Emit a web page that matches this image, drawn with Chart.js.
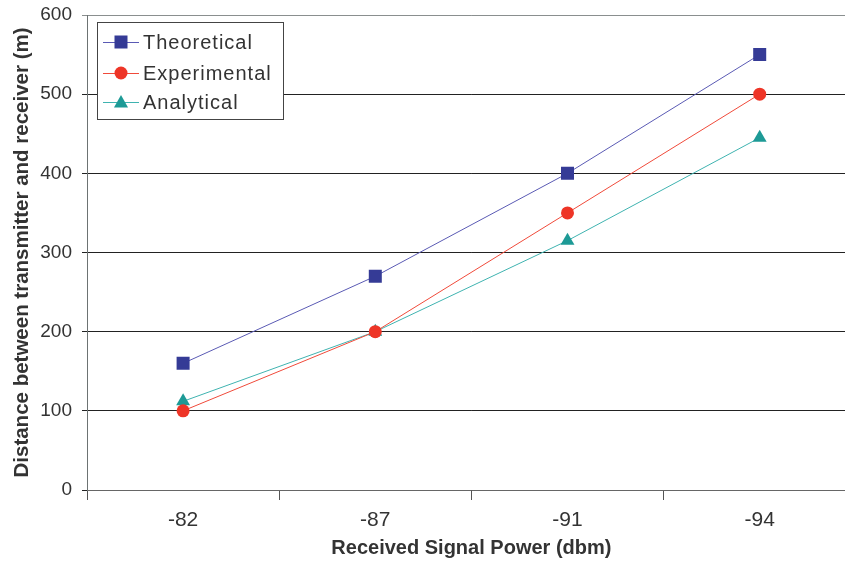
<!DOCTYPE html>
<html>
<head>
<meta charset="utf-8">
<script src="https://cdn.jsdelivr.net/npm/chart.js"></script>
<style>
  html, body { margin: 0; padding: 0; background: #fff; overflow: hidden; }
  #wrap { position: absolute; left: 0; top: 0; width: 865px; height: 566px; }
</style>
</head>
<body>
<div id="wrap"><canvas id="chart" width="865" height="566"></canvas></div>
<script>
// data
const powerLabels = ['-82', '-87', '-91', '-94'];
const theoretical = [160, 270, 400, 550];
const experimental = [100, 200, 350, 500];
const analytical = [112, 200, 315, 445];
const yTicks = [0, 100, 200, 300, 400, 500, 600];

const FONT = '"Liberation Sans", Arial, sans-serif';

// legend box drawn inside the plot, Excel style
const boxLegend = {
  id: 'boxLegend',
  afterDraw(chart) {
    const ctx = chart.ctx;
    const x0 = 97, y0 = 22, w = 186, h = 97;
    ctx.save();
    ctx.fillStyle = '#fff';
    ctx.fillRect(x0, y0, w, h);
    ctx.strokeStyle = '#444';
    ctx.lineWidth = 1;
    ctx.strokeRect(x0 + 0.5, y0 + 0.5, w, h);
    const rows = [42, 73, 102];
    chart.data.datasets.forEach((ds, i) => {
      const y = rows[i];
      ctx.strokeStyle = ds.borderColor;
      ctx.lineWidth = 1;
      ctx.beginPath();
      ctx.moveTo(103, y + 0.5);
      ctx.lineTo(139, y + 0.5);
      ctx.stroke();
      ctx.fillStyle = ds.pointBackgroundColor;
      ctx.beginPath();
      const mx = 121;
      if (ds.pointStyle === 'rect') {
        ctx.rect(mx - 6.5, y - 6.5, 13, 13);
      } else if (ds.pointStyle === 'circle') {
        ctx.arc(mx, y, 6.5, 0, Math.PI * 2);
      } else {
        ctx.moveTo(mx, y - 7);
        ctx.lineTo(mx + 7, y + 5.5);
        ctx.lineTo(mx - 7, y + 5.5);
        ctx.closePath();
      }
      ctx.fill();
      ctx.fillStyle = '#333';
      ctx.font = '20px ' + FONT;
      ctx.letterSpacing = '1px';
      ctx.textBaseline = 'middle';
      ctx.fillText(ds.label, 143, y + 1);
    });
    ctx.restore();
  }
};

new Chart(document.getElementById('chart'), {
  type: 'line',
  data: {
    labels: powerLabels,
    datasets: [
      {
        label: 'Theoretical',
        data: theoretical,
        borderColor: '#5a5ab4',
        borderWidth: 1,
        pointStyle: 'rect',
        pointRadius: 9.2,
        pointBackgroundColor: '#353b96',
        pointBorderWidth: 0,
        tension: 0
      },
      {
        label: 'Experimental',
        data: experimental,
        borderColor: '#f04a3a',
        borderWidth: 1,
        pointStyle: 'circle',
        pointRadius: 6.5,
        pointBackgroundColor: '#ee3527',
        pointBorderWidth: 0,
        tension: 0
      },
      {
        label: 'Analytical',
        data: analytical,
        borderColor: '#3fb3b0',
        borderWidth: 1,
        pointStyle: 'triangle',
        pointRadius: 8,
        pointBackgroundColor: '#1d9a96',
        pointBorderWidth: 0,
        tension: 0
      }
    ]
  },
  options: {
    responsive: false,
    animation: false,
    devicePixelRatio: 1,
    layout: { padding: { top: 15, right: 4, left: 0, bottom: 0 } },
    plugins: {
      legend: { display: false },
      tooltip: { enabled: false }
    },
    scales: {
      x: {
        type: 'category',
        offset: true,
        grid: {
          offset: true,
          drawOnChartArea: false,
          drawTicks: true,
          tickLength: 10,
          color: '#555'
        },
        border: { color: '#666', width: 1 },
        ticks: {
          color: '#333',
          font: { family: FONT, size: 21 },
          padding: 8,
          maxRotation: 0
        },
        title: {
          display: true,
          text: 'Received Signal Power (dbm)',
          color: '#333',
          font: { family: FONT, size: 20, weight: 'bold' },
          padding: { top: 0, bottom: 6 }
        },
        afterFit(scale) {
          scale.height = 76;
          scale.paddingLeft = 0;
          scale.paddingRight = 0;
        }
      },
      y: {
        min: 0,
        max: 600,
        afterBuildTicks(scale) { scale.ticks = yTicks.map(v => ({ value: v })); },
        grid: {
          color: ctx => (ctx.tick && ctx.tick.value === 600 ? '#8a8f8f' : '#222'),
          lineWidth: 1,
          drawTicks: true,
          tickLength: 5
        },
        border: { color: '#6d7373', width: 1 },
        ticks: {
          color: '#333',
          font: { family: FONT, size: 19 },
          padding: 10
        },
        title: {
          display: true,
          text: 'Distance between transmitter and receiver (m)',
          color: '#333',
          font: { family: FONT, size: 20.5, weight: 'bold' },
          padding: { top: 10, bottom: 0 }
        },
        afterFit(scale) {
          scale.width = 87;
          scale.paddingTop = 0;
          scale.paddingBottom = 0;
        }
      }
    }
  },
  plugins: [boxLegend]
});
</script>
</body>
</html>
